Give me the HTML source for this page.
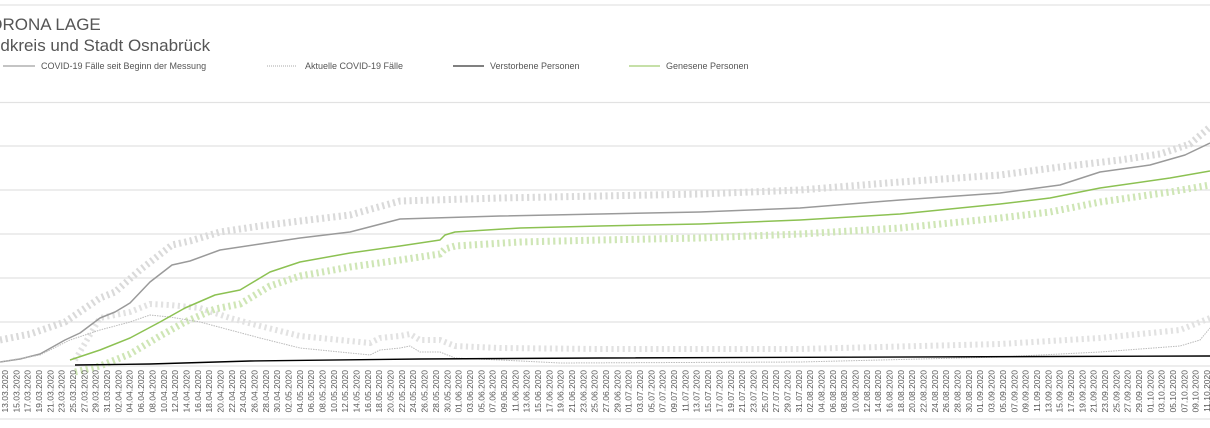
<!DOCTYPE html>
<html><head><meta charset="utf-8"><style>
body{margin:0;background:#fff;width:1210px;height:423px;overflow:hidden;font-family:"Liberation Sans",sans-serif}
svg text{font-family:"Liberation Sans",sans-serif}
</style></head><body>
<svg width="1210" height="423" viewBox="0 0 1210 423">
<line x1="0" y1="5" x2="1210" y2="5" stroke="#ddd"/>
<line x1="0" y1="419" x2="1210" y2="419" stroke="#ddd"/>
<text x="-23" y="30" font-size="17" fill="#555">CORONA LAGE</text>
<text x="-28" y="51" font-size="17" fill="#555">Landkreis und Stadt Osnabrück</text>
<g font-size="9" fill="#555">
<line x1="3" y1="66" x2="35" y2="66" stroke="#888"/><text x="41" y="69">COVID-19 Fälle seit Beginn der Messung</text>
<line x1="267" y1="66" x2="297" y2="66" stroke="#aaa" stroke-dasharray="1 1"/><text x="305" y="69">Aktuelle COVID-19 Fälle</text>
<line x1="453" y1="66" x2="484" y2="66" stroke="#000"/><text x="490" y="69">Verstorbene Personen</text>
<line x1="629" y1="66" x2="660" y2="66" stroke="#8cc152"/><text x="666" y="69">Genesene Personen</text>
</g>
<g stroke="#e2e2e2" stroke-width="1.2">
<line x1="0" y1="102.5" x2="1210" y2="102.5"/><line x1="0" y1="146" x2="1210" y2="146"/><line x1="0" y1="190" x2="1210" y2="190"/><line x1="0" y1="234" x2="1210" y2="234"/><line x1="0" y1="278" x2="1210" y2="278"/><line x1="0" y1="322" x2="1210" y2="322"/><line x1="0" y1="366" x2="1210" y2="366"/>
</g>
<!-- label textures -->
<g fill="none" stroke-dasharray="2.2 3.4">
<polyline stroke="#dadada" stroke-width="7" points="0,340 30,334 65,322 100,298 115,292 140,270 172,245 190,241 220,232 260,226 300,221 350,215 400,201 500,198 600,196 700,194 800,190 900,182 1000,175 1060,167 1120,160 1160,154 1190,144 1210,127"/>
<polyline stroke="#e2e2e2" stroke-width="6" points="75,360 100,318 130,312 150,304 170,305 200,308 230,318 260,326 300,336 340,340 370,343 380,338 400,336 410,334 420,340 440,340 455,346 500,348 600,349 800,349 1000,344 1100,338 1180,330 1210,318"/>
<polyline stroke="#cfe6b6" stroke-width="7" points="75,372 100,366 130,354 160,336 185,322 215,309 240,304 270,286 300,276 350,267 400,260 440,254 445,249 455,246 520,242 600,240 700,238 800,234 900,228 1000,218 1050,212 1100,202 1170,192 1210,185"/>
</g>
<g fill="none" stroke-linejoin="round">
<polyline stroke="#9a9a9a" stroke-width="1.5" points="0,362 20,359 40,354 65,340 80,333 100,318 115,312 130,303 150,282 172,265 190,261 220,250 260,244 300,238 350,232 400,219 500,216 600,214 700,212 800,208 900,200 1000,193 1060,185 1100,172 1150,165 1185,155 1210,143"/>
<polyline stroke="#bbb" stroke-width="1" stroke-dasharray="1.5 1" points="0,362 40,355 70,340 100,330 130,322 150,315 170,317 200,322 230,330 260,338 300,348 340,352 370,355 380,350 400,348 410,346 420,352 440,352 455,358 500,360 560,363 800,362 1000,357 1100,352 1180,346 1200,340 1210,328"/>
<polyline stroke="#000" stroke-width="1.4" points="75,365 150,364 250,361 420,359 600,358 1210,356"/>
<polyline stroke="#8cc152" stroke-width="1.5" points="70,360 100,350 130,338 160,322 185,308 215,295 240,290 270,272 300,262 350,253 400,246 440,240 445,235 455,232 520,228 600,226 700,224 800,220 900,214 1000,204 1050,198 1100,188 1170,178 1210,171"/>
</g>
<g font-size="8.5" fill="#555" text-anchor="end">
<text transform="translate(8,370) rotate(-90)">13.03.2020</text>
<text transform="translate(19.3,370) rotate(-90)">15.03.2020</text>
<text transform="translate(30.7,370) rotate(-90)">17.03.2020</text>
<text transform="translate(42,370) rotate(-90)">19.03.2020</text>
<text transform="translate(53.4,370) rotate(-90)">21.03.2020</text>
<text transform="translate(64.7,370) rotate(-90)">23.03.2020</text>
<text transform="translate(76,370) rotate(-90)">25.03.2020</text>
<text transform="translate(87.4,370) rotate(-90)">27.03.2020</text>
<text transform="translate(98.7,370) rotate(-90)">29.03.2020</text>
<text transform="translate(110.1,370) rotate(-90)">31.03.2020</text>
<text transform="translate(121.4,370) rotate(-90)">02.04.2020</text>
<text transform="translate(132.7,370) rotate(-90)">04.04.2020</text>
<text transform="translate(144.1,370) rotate(-90)">06.04.2020</text>
<text transform="translate(155.4,370) rotate(-90)">08.04.2020</text>
<text transform="translate(166.8,370) rotate(-90)">10.04.2020</text>
<text transform="translate(178.1,370) rotate(-90)">12.04.2020</text>
<text transform="translate(189.4,370) rotate(-90)">14.04.2020</text>
<text transform="translate(200.8,370) rotate(-90)">16.04.2020</text>
<text transform="translate(212.1,370) rotate(-90)">18.04.2020</text>
<text transform="translate(223.5,370) rotate(-90)">20.04.2020</text>
<text transform="translate(234.8,370) rotate(-90)">22.04.2020</text>
<text transform="translate(246.1,370) rotate(-90)">24.04.2020</text>
<text transform="translate(257.5,370) rotate(-90)">26.04.2020</text>
<text transform="translate(268.8,370) rotate(-90)">28.04.2020</text>
<text transform="translate(280.2,370) rotate(-90)">30.04.2020</text>
<text transform="translate(291.5,370) rotate(-90)">02.05.2020</text>
<text transform="translate(302.8,370) rotate(-90)">04.05.2020</text>
<text transform="translate(314.2,370) rotate(-90)">06.05.2020</text>
<text transform="translate(325.5,370) rotate(-90)">08.05.2020</text>
<text transform="translate(336.9,370) rotate(-90)">10.05.2020</text>
<text transform="translate(348.2,370) rotate(-90)">12.05.2020</text>
<text transform="translate(359.5,370) rotate(-90)">14.05.2020</text>
<text transform="translate(370.9,370) rotate(-90)">16.05.2020</text>
<text transform="translate(382.2,370) rotate(-90)">18.05.2020</text>
<text transform="translate(393.6,370) rotate(-90)">20.05.2020</text>
<text transform="translate(404.9,370) rotate(-90)">22.05.2020</text>
<text transform="translate(416.2,370) rotate(-90)">24.05.2020</text>
<text transform="translate(427.6,370) rotate(-90)">26.05.2020</text>
<text transform="translate(438.9,370) rotate(-90)">28.05.2020</text>
<text transform="translate(450.3,370) rotate(-90)">30.05.2020</text>
<text transform="translate(461.6,370) rotate(-90)">01.06.2020</text>
<text transform="translate(472.9,370) rotate(-90)">03.06.2020</text>
<text transform="translate(484.3,370) rotate(-90)">05.06.2020</text>
<text transform="translate(495.6,370) rotate(-90)">07.06.2020</text>
<text transform="translate(507,370) rotate(-90)">09.06.2020</text>
<text transform="translate(518.3,370) rotate(-90)">11.06.2020</text>
<text transform="translate(529.6,370) rotate(-90)">13.06.2020</text>
<text transform="translate(541,370) rotate(-90)">15.06.2020</text>
<text transform="translate(552.3,370) rotate(-90)">17.06.2020</text>
<text transform="translate(563.7,370) rotate(-90)">19.06.2020</text>
<text transform="translate(575,370) rotate(-90)">21.06.2020</text>
<text transform="translate(586.3,370) rotate(-90)">23.06.2020</text>
<text transform="translate(597.7,370) rotate(-90)">25.06.2020</text>
<text transform="translate(609,370) rotate(-90)">27.06.2020</text>
<text transform="translate(620.4,370) rotate(-90)">29.06.2020</text>
<text transform="translate(631.7,370) rotate(-90)">01.07.2020</text>
<text transform="translate(643,370) rotate(-90)">03.07.2020</text>
<text transform="translate(654.4,370) rotate(-90)">05.07.2020</text>
<text transform="translate(665.7,370) rotate(-90)">07.07.2020</text>
<text transform="translate(677.1,370) rotate(-90)">09.07.2020</text>
<text transform="translate(688.4,370) rotate(-90)">11.07.2020</text>
<text transform="translate(699.7,370) rotate(-90)">13.07.2020</text>
<text transform="translate(711.1,370) rotate(-90)">15.07.2020</text>
<text transform="translate(722.4,370) rotate(-90)">17.07.2020</text>
<text transform="translate(733.8,370) rotate(-90)">19.07.2020</text>
<text transform="translate(745.1,370) rotate(-90)">21.07.2020</text>
<text transform="translate(756.4,370) rotate(-90)">23.07.2020</text>
<text transform="translate(767.8,370) rotate(-90)">25.07.2020</text>
<text transform="translate(779.1,370) rotate(-90)">27.07.2020</text>
<text transform="translate(790.5,370) rotate(-90)">29.07.2020</text>
<text transform="translate(801.8,370) rotate(-90)">31.07.2020</text>
<text transform="translate(813.1,370) rotate(-90)">02.08.2020</text>
<text transform="translate(824.5,370) rotate(-90)">04.08.2020</text>
<text transform="translate(835.8,370) rotate(-90)">06.08.2020</text>
<text transform="translate(847.2,370) rotate(-90)">08.08.2020</text>
<text transform="translate(858.5,370) rotate(-90)">10.08.2020</text>
<text transform="translate(869.8,370) rotate(-90)">12.08.2020</text>
<text transform="translate(881.2,370) rotate(-90)">14.08.2020</text>
<text transform="translate(892.5,370) rotate(-90)">16.08.2020</text>
<text transform="translate(903.9,370) rotate(-90)">18.08.2020</text>
<text transform="translate(915.2,370) rotate(-90)">20.08.2020</text>
<text transform="translate(926.5,370) rotate(-90)">22.08.2020</text>
<text transform="translate(937.9,370) rotate(-90)">24.08.2020</text>
<text transform="translate(949.2,370) rotate(-90)">26.08.2020</text>
<text transform="translate(960.6,370) rotate(-90)">28.08.2020</text>
<text transform="translate(971.9,370) rotate(-90)">30.08.2020</text>
<text transform="translate(983.2,370) rotate(-90)">01.09.2020</text>
<text transform="translate(994.6,370) rotate(-90)">03.09.2020</text>
<text transform="translate(1005.9,370) rotate(-90)">05.09.2020</text>
<text transform="translate(1017.3,370) rotate(-90)">07.09.2020</text>
<text transform="translate(1028.6,370) rotate(-90)">09.09.2020</text>
<text transform="translate(1039.9,370) rotate(-90)">11.09.2020</text>
<text transform="translate(1051.3,370) rotate(-90)">13.09.2020</text>
<text transform="translate(1062.6,370) rotate(-90)">15.09.2020</text>
<text transform="translate(1074,370) rotate(-90)">17.09.2020</text>
<text transform="translate(1085.3,370) rotate(-90)">19.09.2020</text>
<text transform="translate(1096.6,370) rotate(-90)">21.09.2020</text>
<text transform="translate(1108,370) rotate(-90)">23.09.2020</text>
<text transform="translate(1119.3,370) rotate(-90)">25.09.2020</text>
<text transform="translate(1130.7,370) rotate(-90)">27.09.2020</text>
<text transform="translate(1142,370) rotate(-90)">29.09.2020</text>
<text transform="translate(1153.3,370) rotate(-90)">01.10.2020</text>
<text transform="translate(1164.7,370) rotate(-90)">03.10.2020</text>
<text transform="translate(1176,370) rotate(-90)">05.10.2020</text>
<text transform="translate(1187.4,370) rotate(-90)">07.10.2020</text>
<text transform="translate(1198.7,370) rotate(-90)">09.10.2020</text>
<text transform="translate(1210,370) rotate(-90)">11.10.2020</text>
</g>
</svg>
</body></html>
